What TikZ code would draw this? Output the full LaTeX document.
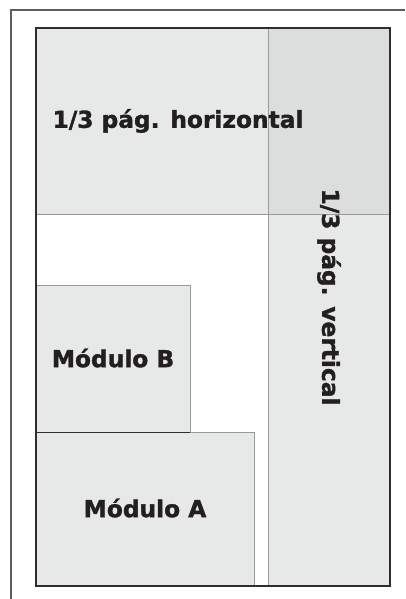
\documentclass[tikz,border=0pt]{standalone}
\usepackage{fontspec}
\setmainfont{DejaVu Sans}
\newfontfamily\heavyfont{DejaVu Sans Bold}[FakeBold=1.5]
\definecolor{boxfill}{HTML}{E7E8E8}
\definecolor{overfill}{HTML}{DCDDDD}
\definecolor{inner}{HTML}{999999}
\definecolor{pageline}{HTML}{2E2E2E}
\definecolor{frameline}{HTML}{5E5E5E}
\definecolor{txt}{HTML}{231F20}
\begin{document}
\begin{tikzpicture}[x=1pt,y=-1pt,
  adbox/.style={fill=boxfill,draw=inner,line width=0.9pt},
  adlabel/.style={font=\heavyfont\fontsize{23.3}{27}\selectfont,text=txt,inner sep=0pt}]
\useasboundingbox (0,0) rectangle (405,599);
% outer frame
\draw[frameline,line width=1.5pt] (11,599) -- (11,10) -- (405,10);
% ads
\path[adbox] (36,28) rectangle (390,214);
\path[adbox] (268,28) rectangle (390,586);
\path[fill=overfill] (268.5,28.5) rectangle (389.5,213.5);
\draw[inner,line width=0.9pt] (268,28) -- (268,586);
\draw[inner,line width=0.9pt] (36,214) -- (390,214);
\path[adbox] (36,285) rectangle (190,432);
\path[adbox] (36,432) rectangle (254,586);
\draw[pageline,line width=0.9pt] (36,432) -- (190,432);
% page border
\draw[pageline,line width=1.4pt] (36,28) rectangle (390,586);
% labels
\node[adlabel] (h) at (178,121) {1/3 pág. horizontal};
\node[adlabel,rotate=-90] (v) at (329,297) {1/3 pág. vertical};
\node[adlabel] (b) at (113,358) {Módulo B};
\node[adlabel] (a) at (145,508) {Módulo A};
\end{tikzpicture}
\end{document}
